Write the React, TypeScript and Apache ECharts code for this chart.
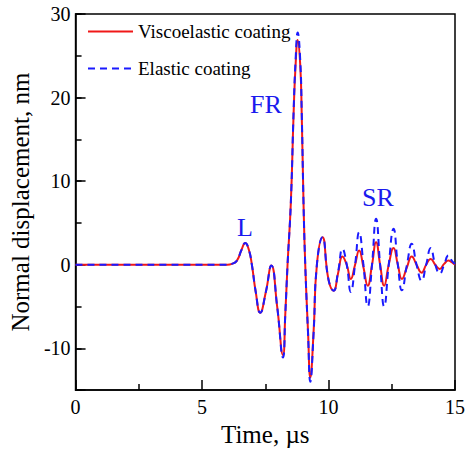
import React, { useEffect, useRef } from "react";
import * as echarts from "echarts";

const time = [
  0, 6.0, 6.18, 6.38, 6.55, 6.71, 6.85, 6.97, 7.12, 7.3, 7.52, 7.74, 7.97, 8.2,
  8.29, 8.38, 8.51, 8.62, 8.7, 8.78, 8.88, 8.94, 9.01, 9.08, 9.19, 9.28, 9.41,
  9.54, 9.76, 10.0, 10.2, 10.38, 10.55, 10.72, 10.88, 11.05, 11.21, 11.38, 11.55,
  11.72, 11.88, 12.04, 12.2, 12.38, 12.57, 12.74, 12.9, 13.1, 13.29, 13.48, 13.68,
  13.86, 14.04, 14.22, 14.4, 14.57, 14.74, 14.87, 15.0,
];

const viscoelastic = [
  0, 0, 0.1, 0.5, 1.7, 2.6, 1.8, 0, -3.2, -5.75, -3.3, -0.1, -5.0, -10.8,
  -6.0, 0, 7.4, 18.1, 24.0, 26.9, 24.0, 18.1, 7.6, 0, -8.0, -13.5, -8.0,
  0, 3.3, -1.8, -3.1, -1.0, 1.0, 0, -1.7, 0, 1.7, -0.3, -2.5,
  0, 2.7, 0, -2.5, 0, 2.0, 0, -1.7, -0.3, 1.0, 0, -0.95,
  0, 0.7, 0, -0.5, 0.1, 0.5, 0.3, 0,
];

const elastic = [
  0, 0, 0.1, 0.5, 1.7, 2.6, 1.8, 0, -3.2, -5.75, -3.3, -0.1, -5.0, -11.1,
  -6.0, 0, 7.4, 18.4, 24.6, 27.8, 24.6, 18.4, 7.6, 0, -8.2, -14.0, -8.2,
  0, 3.3, -1.8, -3.1, -0.8, 1.9, 0, -3.25, 0, 3.9, 0, -5.0,
  0, 5.5, 0, -5.0, 0, 4.3, 0, -3.06, 0, 2.5, 0, -1.9,
  0, 2.0, 0, -1.07, 0, 1.1, 0.5, 0.1,
];

const seriesNames = ["Viscoelastic coating", "Elastic coating"];
const annotations = [
  { text: "L", x: 245, y: 227 },
  { text: "FR", x: 266, y: 104 },
  { text: "SR", x: 378, y: 197 },
];

const FONT = "'Liberation Serif', 'Times New Roman', serif";

export default function App() {
  const ref = useRef<HTMLDivElement>(null);
  useEffect(() => {
    document.body.style.margin = "0";
    const chart = echarts.init(ref.current!, null, { renderer: "svg" });
    const pairs = (ys: number[]) => time.map((t, i) => [t, ys[i]]);
    chart.setOption({
      animation: false,
      backgroundColor: "#fff",
      grid: {
        left: 75,
        right: 14,
        top: 14,
        bottom: 60,
        show: true,
        borderColor: "#000",
        borderWidth: 1.5,
      },
      legend: {
        orient: "vertical",
        left: 82,
        top: 17,
        itemWidth: 45,
        itemHeight: 14,
        itemGap: 18,
        data: seriesNames,
        itemStyle: { opacity: 0 },
        textStyle: { fontFamily: FONT, fontSize: 19, color: "#000" },
      },
      xAxis: {
        type: "value",
        min: 0,
        max: 15,
        interval: 5,
        name: "Time, µs",
        nameLocation: "middle",
        nameGap: 30,
        nameTextStyle: { fontFamily: FONT, fontSize: 25, color: "#000" },
        axisLine: { onZero: false, lineStyle: { color: "#000", width: 1.5 } },
        axisTick: { inside: true, length: 10, lineStyle: { color: "#000", width: 1.5 } },
        minorTick: { show: true, splitNumber: 2, length: 6, lineStyle: { color: "#000", width: 1.5 } },
        axisLabel: { fontFamily: FONT, fontSize: 20, color: "#000", margin: 7 },
        splitLine: { show: false },
      },
      yAxis: [
        {
          type: "value",
          min: -15,
          max: 30,
          splitNumber: 5,
          name: "Normal displacement, nm",
          nameLocation: "middle",
          nameGap: 36,
          nameTextStyle: { fontFamily: FONT, fontSize: 25, color: "#000" },
          axisLine: { onZero: false, lineStyle: { color: "#000", width: 1.5 } },
          axisTick: { inside: true, length: 10, lineStyle: { color: "#000", width: 1.5 } },
          axisLabel: {
            fontFamily: FONT,
            fontSize: 20,
            color: "#000",
            margin: 5,
            formatter: (v: number) => (v % 10 === 0 ? String(v) : ""),
          },
          splitLine: { show: false },
        },
        {
          type: "value",
          min: -15,
          max: 30,
          interval: 5,
          position: "left",
          axisLine: { show: false, onZero: false },
          axisTick: { inside: true, length: 6, lineStyle: { color: "#000", width: 1.5 } },
          axisLabel: { show: false },
          splitLine: { show: false },
        },
      ],
      graphic: annotations.map((a) => ({
        type: "text",
        x: a.x,
        y: a.y,
        style: {
          text: a.text,
          fontFamily: FONT,
          fontSize: 26,
          fill: "#1a1aee",
          align: "center",
          verticalAlign: "middle",
        },
      })),
      series: [
        {
          name: seriesNames[0],
          type: "line",
          data: pairs(viscoelastic),
          smooth: 0.5,
          symbol: "none",
          lineStyle: { color: "#f01818", width: 2 },
          itemStyle: { color: "#f01818" },
          z: 2,
        },
        {
          name: seriesNames[1],
          type: "line",
          data: pairs(elastic),
          smooth: 0.5,
          symbol: "none",
          lineStyle: { color: "#1a1aff", width: 2, type: [7, 5] },
          itemStyle: { color: "#1a1aff" },
          z: 3,
        },
      ],
    });
    return () => chart.dispose();
  }, []);
  return (
    <div
      ref={ref}
      style={{ position: "fixed", left: 0, top: 0, width: 469, height: 452 }}
    />
  );
}
